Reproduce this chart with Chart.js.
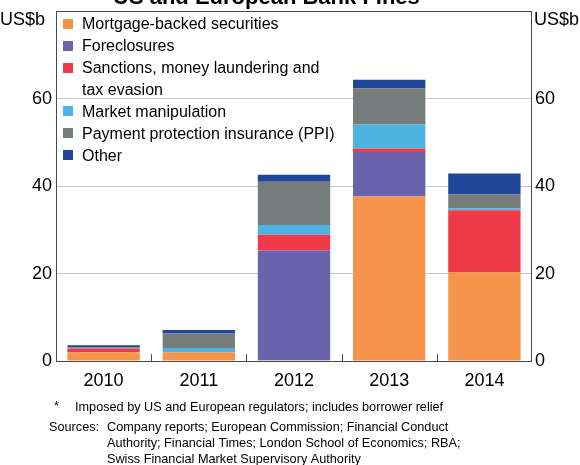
<!DOCTYPE html>
<html><head><meta charset="utf-8">
<script src="https://cdn.jsdelivr.net/npm/chart.js@4/dist/chart.umd.min.js"></script>
<style>html,body{margin:0;padding:0;background:#fff;}#wrap{width:580px;height:465px;position:relative;}</style>
</head><body><div id="wrap"><canvas id="c" width="580" height="465"></canvas></div>
<script>
const categories = ['2010', '2011', '2012', '2013', '2014'];
const seriesLabels = ['Mortgage-backed securities', 'Foreclosures', ['Sanctions, money laundering and', 'tax evasion'], 'Market manipulation', 'Payment protection insurance (PPI)', 'Other'];
const mbs = [2.0, 2.0, 0.2, 37.6, 20.3];
const foreclosures = [0, 0, 25.1, 10.2, 0];
const sanctions = [0.85, 0, 3.6, 0.8, 14.2];
const marketManipulation = [0.1, 1.0, 2.2, 5.5, 0.4];
const ppi = [0.2, 3.3, 9.9, 8.3, 3.2];
const other = [0.45, 0.8, 1.6, 1.9, 4.8];
const yTicks = [0, 20, 40, 60, 80];
const titleText = 'US and European Bank Fines*';
const unitText = 'US$b';
const footnote = 'Imposed by US and European regulators; includes borrower relief';
const sources = ['Company reports; European Commission; Financial Conduct', 'Authority; Financial Times; London School of Economics; RBA;', 'Swiss Financial Market Supervisory Authority'];

const colors = ['#F5944A', '#6A62AD', '#EE3A48', '#4DB3E3', '#767B7C', '#1F4698'];
const seriesData = [mbs, foreclosures, sanctions, marketManipulation, ppi, other];
const FONT = '"Liberation Sans", Arial, sans-serif';

const decor = {
  id: 'decor',
  afterDraw(chart) {
    const ctx = chart.ctx, a = chart.chartArea, xs = chart.scales.x;
    ctx.save();
    ctx.strokeStyle = '#4a4a4a'; ctx.lineWidth = 1;
    ctx.strokeRect(Math.round(a.left) + 0.5, Math.round(a.top) + 0.5, Math.round(a.right - a.left) - 1, Math.round(a.bottom - a.top));
    ctx.beginPath();
    for (let i = 0; i < categories.length - 1; i++) {
      const x = Math.round((xs.getPixelForValue(i) + xs.getPixelForValue(i + 1)) / 2) + 0.5;
      ctx.moveTo(x, a.bottom); ctx.lineTo(x, a.bottom - 7);
    }
    ctx.stroke();
    ctx.fillStyle = '#000';
    ctx.font = 'bold 22px ' + FONT; ctx.textBaseline = 'alphabetic'; ctx.textAlign = 'left';
    ctx.fillText(titleText, 113, 4);
    ctx.font = '18px ' + FONT;
    ctx.fillText(unitText, 0, 25);
    ctx.fillText(unitText, 534, 25);
    ctx.font = '16px ' + FONT; ctx.textBaseline = 'middle';
    let y = 24; const lh = 21.85;
    chart.data.datasets.forEach((ds) => {
      ctx.fillStyle = ds.backgroundColor;
      ctx.fillRect(63, Math.round(y - 5), 10, 10);
      ctx.fillStyle = '#000';
      const lines = Array.isArray(ds.label) ? ds.label : [ds.label];
      lines.forEach((ln) => { ctx.fillText(ln, 82, y + 1); y += lh; });
    });
    ctx.font = '12.7px ' + FONT; ctx.textBaseline = 'middle';
    ctx.fillText('*', 54, 406);
    ctx.fillText(footnote, 75, 407);
    ctx.fillText('Sources:', 49, 427);
    sources.forEach((s, i) => ctx.fillText(s, 107, 427 + i * 16));
    ctx.restore();
  }
};

new Chart(document.getElementById('c'), {
  type: 'bar',
  data: {
    labels: categories,
    datasets: seriesData.map((d, i) => ({
      label: seriesLabels[i], data: d, backgroundColor: colors[i], borderWidth: 0,
      categoryPercentage: 0.76, barPercentage: 1.0, yAxisID: 'y'
    }))
  },
  options: {
    responsive: false, animation: false, devicePixelRatio: 1,
    layout: { padding: { top: 11, left: 0, right: 0, bottom: 0 } },
    plugins: { legend: { display: false }, tooltip: { enabled: false }, title: { display: false } },
    scales: {
      x: {
        stacked: true,
        grid: { display: false }, border: { display: false },
        ticks: { color: '#000', font: { family: FONT, size: 18 }, padding: 1, maxRotation: 0 },
        afterFit(s) { s.height = 104; }
      },
      y: {
        stacked: true, position: 'left', min: 0, max: 80,
        afterBuildTicks(s) { s.ticks = yTicks.map(v => ({ value: v })); },
        ticks: { color: '#000', font: { family: FONT, size: 18, lineHeight: 0.8 }, padding: 4, callback: v => (v === 80 ? '' : v) },
        grid: { drawTicks: false, color: c => (c.tick && [20, 40, 60].includes(c.tick.value) ? '#c8c8c8' : 'rgba(0,0,0,0)'), lineWidth: 1 },
        border: { display: false },
        afterFit(s) { s.width = 56; }
      },
      y2: {
        position: 'right', min: 0, max: 80,
        afterBuildTicks(s) { s.ticks = yTicks.map(v => ({ value: v })); },
        ticks: { color: '#000', font: { family: FONT, size: 18, lineHeight: 0.8 }, padding: 3, callback: v => (v === 80 ? '' : v) },
        grid: { display: false, drawTicks: false }, border: { display: false },
        afterFit(s) { s.width = 48; }
      }
    }
  },
  plugins: [decor]
});
</script></body></html>
